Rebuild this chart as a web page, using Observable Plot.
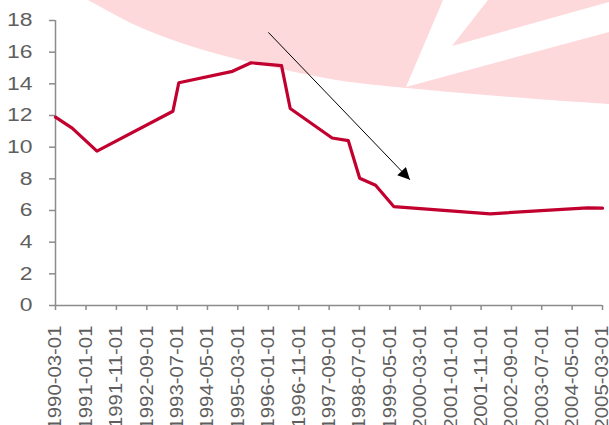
<!DOCTYPE html>
<html><head><meta charset="utf-8">
<script src="https://cdn.jsdelivr.net/npm/d3@7"></script>
<script src="https://cdn.jsdelivr.net/npm/@observablehq/plot@0.6"></script>
<style>
html,body{margin:0;padding:0;background:#fff;overflow:hidden}
#chart svg{overflow:visible;display:block}
</style></head><body><div id="chart"></div>
<script>
// ---- data ----
const dates = ["1990-03-01","1990-08-15","1991-04-20","1993-05-20","1993-07-18","1995-01-07","1995-07-12","1996-05-12","1996-08-07","1997-10-01","1998-03-12","1998-07-04","1998-12-10","1999-06-10","2002-02-01","2004-10-01","2005-03-01"];
const values = [11.9,11.2,9.75,12.27,14.07,14.79,15.33,15.15,12.44,10.58,10.41,8.04,7.6,6.25,5.79,6.17,6.15];
const xTickLabels = ["1990-03-01","1991-01-01","1991-11-01","1992-09-01","1993-07-01","1994-05-01","1995-03-01","1996-01-01","1996-11-01","1997-09-01","1998-07-01","1999-05-01","2000-03-01","2001-01-01","2001-11-01","2002-09-01","2003-07-01","2004-05-01","2005-03-01"];
const yTicks = [0,2,4,6,8,10,12,14,16,18];
const arrowStart = ["1996-01-01", 17.25];
const arrowEnd = ["1999-11-19", 7.94];

const parse = d3.utcParse("%Y-%m-%d");
const fmt = d3.utcFormat("%Y-%m-%d");
const data = dates.map((d,i)=>({date:parse(d), value:values[i]}));
const tickDates = xTickLabels.map(parse);
const arrowData = [{x1:parse(arrowStart[0]), y1:arrowStart[1], x2:parse(arrowEnd[0]), y2:arrowEnd[1]}];

const axisColor = "#8c8c8c";
const chart = Plot.plot({
  width:609, height:425,
  marginLeft:55, marginRight:7, marginTop:20, marginBottom:120,
  style:{fontFamily:"'Liberation Sans', Arial, sans-serif", fontSize:"18.5px", color:"#5f5f5f", background:"transparent", overflow:"visible"},
  x:{type:"utc", domain:[tickDates[0], tickDates[tickDates.length-1]]},
  y:{domain:[0,18]},
  marks:[
    Plot.axisY({ticks:yTicks, tickSize:6, tickPadding:17, label:null, stroke:axisColor, strokeWidth:1.5, tickFormat:d=>String(d)}),
    Plot.axisX({ticks:tickDates, tickSize:5, tickRotate:-90, tickPadding:15, label:null, stroke:axisColor, strokeWidth:1.5, tickFormat:fmt}),
    Plot.ruleX([tickDates[0]], {stroke:axisColor, strokeWidth:1.5}),
    Plot.ruleY([0], {stroke:axisColor, strokeWidth:1.5}),
    Plot.line(data, {x:"date", y:"value", stroke:"#c20030", strokeWidth:3.2, strokeLinejoin:"round"}),
    Plot.link(arrowData, {x1:"x1", y1:"y1", x2:"x2", y2:"y2", stroke:"black", strokeWidth:1})
  ]
});
document.getElementById("chart").appendChild(chart);

const svg = d3.select(chart);
// slightly stretched tick-label glyphs (as in the reference)
svg.selectAll('g[aria-label="y-axis tick label"] text').each(function(){
  const t = this.getAttribute("transform") || "";
  this.setAttribute("transform", t + " scale(1.24,1)");
});
svg.selectAll('g[aria-label="x-axis tick label"] text').each(function(){
  const t = this.getAttribute("transform") || "";
  this.setAttribute("transform", t + " scale(1.1,1)");
});
// arrow head
const defs = svg.append("defs");
defs.append("marker").attr("id","ah").attr("viewBox","0 0 10 10").attr("refX",10).attr("refY",5)
  .attr("markerUnits","userSpaceOnUse").attr("markerWidth",16).attr("markerHeight",12).attr("orient","auto")
  .append("path").attr("d","M0,0L10,5L0,10Z").attr("fill","black");
svg.selectAll('g[aria-label="link"] path').attr("marker-end","url(#ah)");

// watermark in background
const wm = svg.insert("g", ":first-child");
const edge = [[88,0],[133,24],[167,38],[200,49],[233,58],[267,66],[320,77],[350,82],[450,92],[550,100],[609,104]];
const lineGen = d3.line().curve(d3.curveCatmullRom);
wm.append("path").attr("d", lineGen(edge) + "L609,0Z").attr("fill","#fdd9dc");
wm.append("path").attr("d","M443,0L488,0L452,46L609,2L609,32L406,87Z").attr("fill","#ffffff");
</script></body></html>
